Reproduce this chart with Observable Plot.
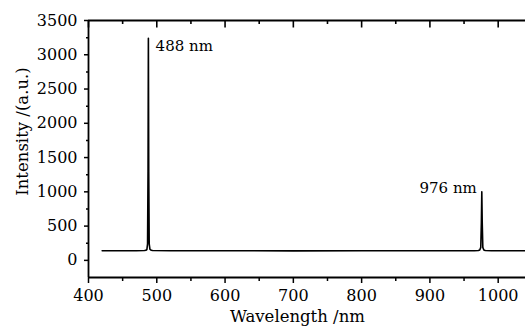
<!DOCTYPE html>
<html>
<head>
<meta charset="utf-8">
<script src="https://cdn.jsdelivr.net/npm/d3@7"></script>
<script src="https://cdn.jsdelivr.net/npm/@observablehq/plot@0.6"></script>
<style>
  html, body { margin: 0; padding: 0; background: #fff; }
  svg { font-family: "DejaVu Serif", serif; }
</style>
</head>
<body>
<div id="chart"></div>
<script>
const wavelength = [420, 470, 482, 484, 485.5, 486.5, 487.2, 487.7, 488.2, 488.9, 490, 492, 494, 520, 600, 700, 800, 900, 965, 971, 973, 974.5, 975.4, 976, 976.6, 977.5, 979, 981, 990, 1040];
const intensity  = [140, 141, 143, 147, 158, 240, 1300, 3240, 1300, 240, 160, 148, 143, 141, 140, 139, 140, 141, 141, 144, 152, 190, 560, 1002, 560, 190, 152, 144, 141, 140];

const xMajorTicks = [400, 500, 600, 700, 800, 900, 1000];
const xMinorTicks = [450, 550, 650, 750, 850, 950];
const yMajorTicks = [0, 500, 1000, 1500, 2000, 2500, 3000, 3500];
const yMinorTicks = [250, 750, 1250, 1750, 2250, 2750, 3250];

const peakLabels = ["488 nm", "976 nm"];
const peakX = [488, 976];
const peakY = [3130, 1046];

const xLabel = "Wavelength /nm";
const yLabel = "Intensity /(a.u.)";

const data = wavelength.map((w, i) => ({w, v: intensity[i]}));
const blank = () => "";

const H = 329, MT = 20, MB = 52;
const plotH = H - MT - MB;
const yDomain = [-250, 3500];
const unitsPerPx = (yDomain[1] - yDomain[0]) / plotH;
const topY = yDomain[1];
const topMajor = xMajorTicks.map(x => ({x, y1: topY, y2: topY - 7 * unitsPerPx}));
const topMinor = xMinorTicks.map(x => ({x, y1: topY, y2: topY - 3.5 * unitsPerPx}));

const chart = Plot.plot({
  width: 525,
  height: H,
  marginLeft: 88,
  marginRight: 0,
  marginTop: MT,
  marginBottom: MB,
  style: {fontFamily: "DejaVu Serif, serif", fontSize: "16px", color: "#000", background: "#fff"},
  x: {domain: [400, 1040], label: null},
  y: {domain: yDomain, label: null},
  marks: [
    Plot.axisX({anchor: "bottom", ticks: xMajorTicks, tickSize: 6, tickPadding: 6, tickFormat: d => String(d), strokeWidth: 1.5, label: null, fontSize: 16, style: {letterSpacing: "0.4px"}}),
    Plot.axisX({anchor: "bottom", ticks: xMinorTicks, tickSize: 4, tickFormat: blank, strokeWidth: 1.5, label: null}),
    Plot.link(topMajor, {x1: "x", x2: "x", y1: "y1", y2: "y2", stroke: "#000", strokeWidth: 1.6}),
    Plot.link(topMinor, {x1: "x", x2: "x", y1: "y1", y2: "y2", stroke: "#000", strokeWidth: 1.6}),
    Plot.axisY({anchor: "left", ticks: yMajorTicks, tickSize: 4, tickPadding: 7, tickFormat: d => String(d), strokeWidth: 1.5, label: null, fontSize: 16, style: {letterSpacing: "0.4px"}}),
    Plot.axisY({anchor: "left", ticks: yMinorTicks, tickSize: 2, tickFormat: blank, strokeWidth: 1.5, label: null}),
    Plot.ruleX([400], {stroke: "#000", strokeWidth: 1.8}),
    Plot.ruleY([-250], {stroke: "#000", strokeWidth: 1.8}),
    Plot.ruleY([3500], {stroke: "#000", strokeWidth: 1.8}),
    Plot.line(data, {x: "w", y: "v", stroke: "#000", strokeWidth: 1.6}),
    Plot.text([peakLabels[0]], {x: [peakX[0]], y: [peakY[0]], text: d => d, textAnchor: "start", dx: 7, fontSize: 15}),
    Plot.text([peakLabels[1]], {x: [peakX[1]], y: [peakY[1]], text: d => d, textAnchor: "end", dx: -5, fontSize: 15}),
    Plot.text([xLabel], {text: d => d, frameAnchor: "bottom", textAnchor: "middle", x: [706], dy: 44, fontSize: 16.5, style: {letterSpacing: "0.9px"}}),
    Plot.text([yLabel], {text: d => d, frameAnchor: "left", textAnchor: "middle", y: [1880], dx: -66, rotate: -90, fontSize: 16.5, style: {letterSpacing: "1.3px"}})
  ]
});

document.getElementById("chart").appendChild(chart);
</script>
</body>
</html>
